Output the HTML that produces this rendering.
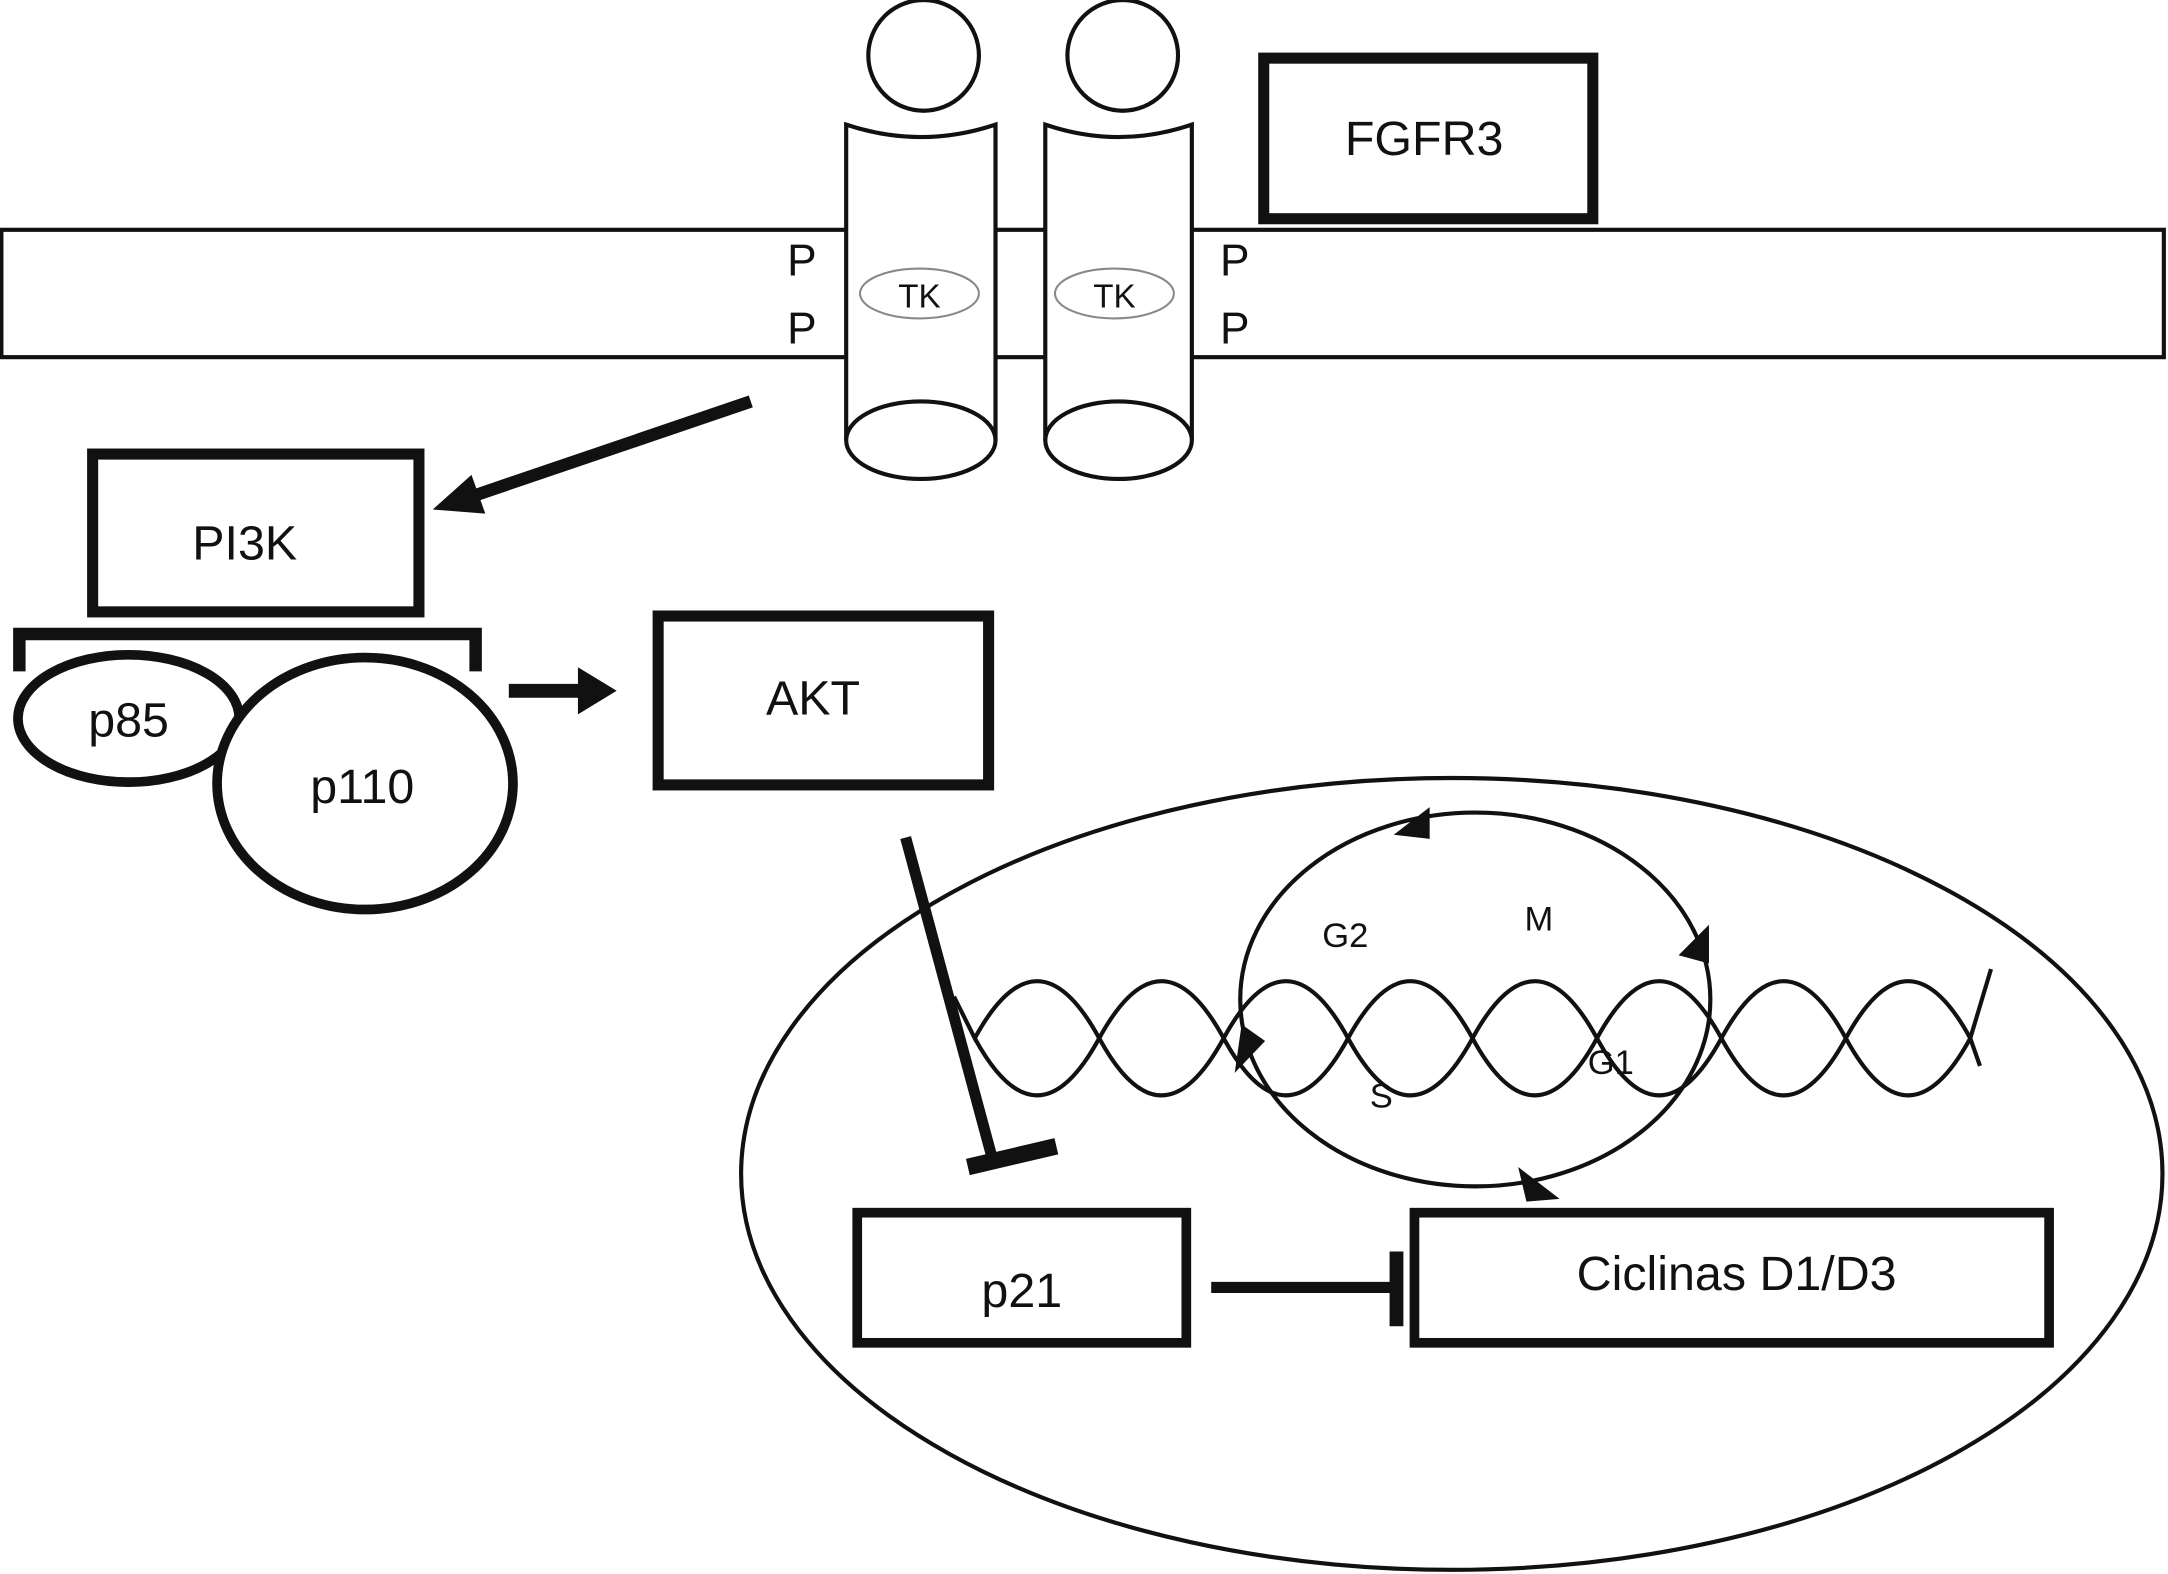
<!DOCTYPE html>
<html><head><meta charset="utf-8"><style>
html,body{margin:0;padding:0;background:#fff}
svg{display:block}
text{font-family:"Liberation Sans",sans-serif;fill:#111}
</style></head><body>
<svg width="2168" height="1574" viewBox="0 0 1568 1137" preserveAspectRatio="none">
<g fill="none" stroke="#111">
<rect x="1" y="166" width="1564" height="92" stroke-width="3"/>
<circle cx="668" cy="40" r="40" stroke-width="3"/>
<circle cx="812" cy="40" r="40" stroke-width="3"/>
<path d="M612,318 L612,90 Q666,108 720,90 L720,318" stroke-width="3" fill="#fff"/>
<ellipse cx="666" cy="318" rx="54" ry="28" stroke-width="3" fill="#fff"/>
<path d="M756,318 L756,90 Q809,108 862,90 L862,318" stroke-width="3" fill="#fff"/>
<ellipse cx="809" cy="318" rx="53" ry="28" stroke-width="3" fill="#fff"/>
<ellipse cx="665" cy="212" rx="43" ry="18" stroke="#888" stroke-width="1.5"/>
<ellipse cx="806" cy="212" rx="43" ry="18" stroke="#888" stroke-width="1.5"/>
<rect x="914" y="42" width="238" height="116" stroke-width="8" fill="#fff"/>
<line x1="543" y1="290" x2="343" y2="358" stroke-width="9"/>
<rect x="67" y="328" width="236" height="114" stroke-width="8"/>
<path d="M14,485 L14,458 L344,458 L344,485" stroke-width="9"/>
<ellipse cx="93" cy="519" rx="80" ry="46" stroke-width="7" fill="#fff"/>
<ellipse cx="264" cy="566" rx="107" ry="91" stroke-width="7" fill="#fff"/>
<line x1="368" y1="499" x2="420" y2="499" stroke-width="10"/>
<rect x="476" y="445" width="239" height="122" stroke-width="8"/>
<ellipse cx="1050" cy="848" rx="514" ry="286" stroke-width="3"/>
<ellipse cx="1067" cy="722" rx="170" ry="135" stroke-width="3"/>
<path d="M690,720 L705,750 C735,695 765,695 795,750 C825,805 855,805 885,750 C915,695 945,695 975,750 C1005,805 1035,805 1065,750 C1095,695 1125,695 1155,750 C1185,805 1215,805 1245,750 C1275,695 1305,695 1335,750 C1365,805 1395,805 1425,750 L1440,700" stroke-width="3"/>
<path d="M705,750 C735,805 765,805 795,750 C825,695 855,695 885,750 C915,805 945,805 975,750 C1005,695 1035,695 1065,750 C1095,805 1125,805 1155,750 C1185,695 1215,695 1245,750 C1275,805 1305,805 1335,750 C1365,695 1395,695 1425,750 L1432,770" stroke-width="3"/>
<line x1="655" y1="605" x2="718" y2="838" stroke-width="8"/>
<line x1="700" y1="843" x2="764" y2="828" stroke-width="12"/>
<rect x="620" y="876" width="238" height="94" stroke-width="7"/>
<rect x="1023" y="876" width="459" height="94" stroke-width="7"/>
<line x1="876" y1="930" x2="1006" y2="930" stroke-width="8"/>
<line x1="1010" y1="904" x2="1010" y2="958" stroke-width="10"/>
</g>
<g fill="#111">
<path d="M313,368 L341,343 L351,371 z"/>
<path d="M418,482 L446,499 L418,516 z"/>
<path d="M1008,603 L1034,583 L1034,606 z"/>
<path d="M1214,690 L1236,668 L1236,696 z"/>
<path d="M893,775 L898,740 L915,752 z"/>
<path d="M1098,843 L1128,866 L1104,868 z"/>
</g>
<g font-size="32">
<text x="580" y="199" text-anchor="middle">P</text>
<text x="580" y="248" text-anchor="middle">P</text>
<text x="893" y="199" text-anchor="middle">P</text>
<text x="893" y="248" text-anchor="middle">P</text>
</g>
<text x="665" y="222" font-size="24" text-anchor="middle">TK</text>
<text x="806" y="222" font-size="24" text-anchor="middle">TK</text>
<text x="1030" y="112" font-size="35" text-anchor="middle">FGFR3</text>
<text x="177" y="404" font-size="35" text-anchor="middle">PI3K</text>
<text x="93" y="532" font-size="35" text-anchor="middle">p85</text>
<text x="262" y="580" font-size="35" text-anchor="middle">p110</text>
<text x="588" y="516" font-size="35" text-anchor="middle">AKT</text>
<text x="739" y="944" font-size="35" text-anchor="middle">p21</text>
<text x="1256" y="932" font-size="35" text-anchor="middle">Ciclinas D1/D3</text>
<g font-size="25" text-anchor="middle">
<text x="973" y="684">G2</text>
<text x="1113" y="672">M</text>
<text x="1165" y="776">G1</text>
<text x="999" y="800">S</text>
</g>
</svg>
</body></html>
